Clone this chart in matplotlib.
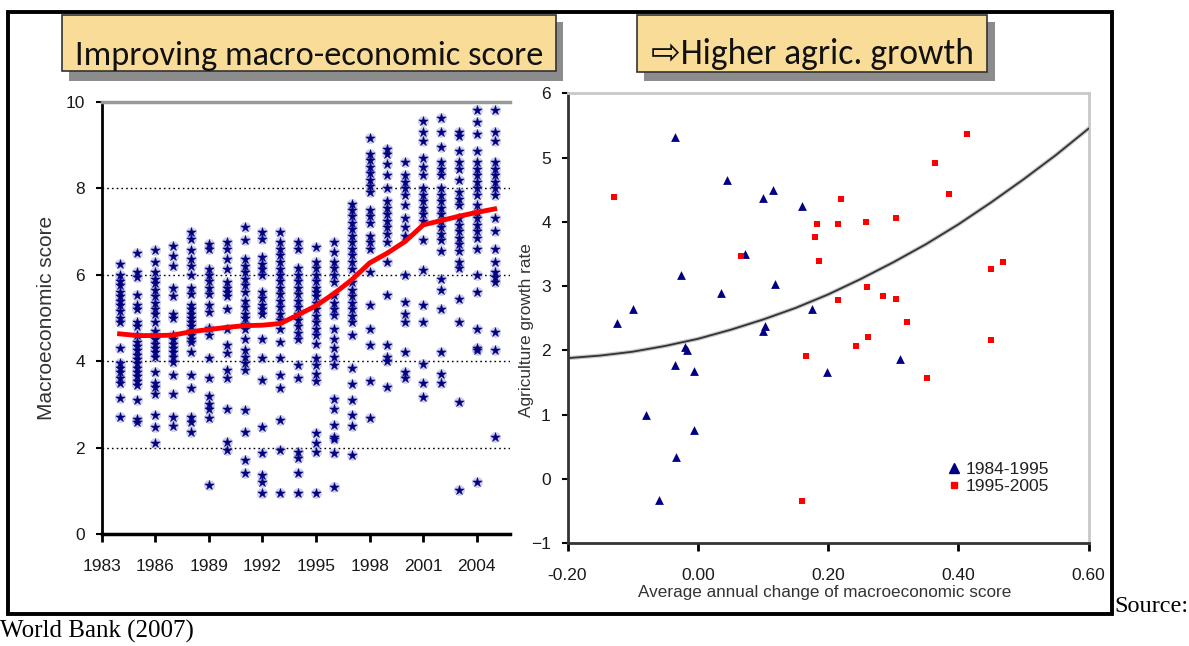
import numpy as np
from matplotlib import pyplot as plt
from matplotlib import font_manager
from matplotlib.patches import Rectangle
from matplotlib.lines import Line2D

# %% data
years = list(range(1984, 2006))

s1984 = [6.25, 6.0, 5.85, 5.75, 5.6, 5.5, 5.4, 5.3, 5.15, 5.0, 4.9, 4.3, 3.95, 3.85, 3.75, 3.6, 3.5, 3.15, 2.7]
s1985 = [6.5, 6.05, 5.95, 5.52, 5.3, 5.2, 4.9, 4.8, 4.6, 4.45, 4.35, 4.25, 4.15, 4.05, 3.95, 3.85, 3.75, 3.65, 3.55, 3.45, 3.1, 2.65, 2.6]
s1986 = [6.56, 6.3, 6.05, 5.9, 5.8, 5.65, 5.5, 5.35, 5.2, 5.1, 4.9, 4.7, 4.6, 4.5, 4.4, 4.3, 4.2, 4.1, 3.75, 3.5, 3.4, 3.25, 2.75, 2.48, 2.1]
s1987 = [6.67, 6.44, 6.2, 5.68, 5.5, 5.1, 5.0, 4.6, 4.5, 4.4, 4.3, 4.2, 4.1, 3.98, 3.67, 3.25, 2.71, 2.5]
s1988 = [6.98, 6.83, 6.56, 6.37, 6.2, 6.0, 5.7, 5.55, 5.3, 5.2, 5.1, 5.0, 4.9, 4.8, 4.7, 4.6, 4.5, 4.45, 4.21, 3.67, 3.37, 2.71, 2.6, 2.36]
s1989 = [6.71, 6.6, 6.14, 6.0, 5.85, 5.7, 5.55, 5.29, 5.14, 4.76, 4.6, 4.06, 3.6, 3.2, 3.0, 2.9, 2.68, 1.13]
s1990 = [6.75, 6.6, 6.37, 6.14, 5.83, 5.7, 5.6, 5.5, 5.21, 4.75, 4.37, 4.18, 3.8, 3.6, 2.9, 2.13, 1.95]
s1991 = [7.1, 6.79, 6.37, 6.2, 6.05, 5.9, 5.75, 5.6, 5.4, 5.25, 5.1, 5.0, 4.85, 4.75, 4.52, 4.25, 4.1, 3.95, 3.8, 2.86, 2.36, 1.71, 1.4]
s1992 = [6.98, 6.83, 6.4, 6.25, 6.14, 6.0, 5.6, 5.45, 5.3, 5.2, 5.1, 4.5, 4.06, 3.56, 2.48, 1.87, 1.36, 1.2, 0.95]
s1993 = [6.98, 6.75, 6.6, 6.45, 6.29, 6.14, 6.0, 5.85, 5.7, 5.55, 5.4, 5.25, 5.1, 4.95, 4.75, 4.45, 4.06, 3.67, 3.37, 2.63, 1.95, 0.95]
s1994 = [6.75, 6.6, 6.15, 6.0, 5.85, 5.7, 5.55, 5.4, 5.25, 5.1, 4.95, 4.8, 4.65, 4.5, 3.9, 3.6, 1.9, 1.75, 1.4, 0.95]
s1995 = [6.64, 6.3, 6.15, 6.0, 5.85, 5.7, 5.6, 5.5, 5.35, 5.2, 5.05, 4.9, 4.75, 4.6, 4.4, 4.06, 3.9, 3.7, 3.55, 2.33, 2.1, 1.9, 0.95]
s1996 = [6.75, 6.52, 6.29, 6.15, 6.0, 5.83, 5.52, 5.35, 5.2, 5.06, 4.75, 4.52, 4.3, 4.1, 3.9, 3.13, 2.9, 2.52, 2.25, 2.2, 1.87, 1.09]
s1997 = [7.63, 7.5, 7.35, 7.2, 7.05, 6.9, 6.75, 6.6, 6.45, 6.3, 6.14, 5.83, 5.65, 5.5, 5.35, 5.2, 5.05, 4.9, 4.6, 3.83, 3.48, 3.1, 2.75, 2.5, 1.83]
s1998 = [9.17, 8.8, 8.65, 8.5, 8.35, 8.2, 8.05, 7.9, 7.5, 7.35, 7.2, 6.9, 6.75, 6.6, 6.07, 5.29, 4.75, 4.37, 3.55, 2.68]
s1999 = [8.9, 8.8, 8.55, 8.3, 8.0, 7.7, 7.55, 7.4, 7.25, 7.1, 6.95, 6.75, 6.3, 5.52, 4.37, 4.1, 4.0, 3.4]
s2000 = [8.6, 8.3, 8.15, 8.0, 7.85, 7.6, 7.3, 7.1, 6.9, 6.0, 5.37, 5.1, 4.9, 4.22, 3.75, 3.6]
s2001 = [9.56, 9.3, 9.1, 8.7, 8.5, 8.3, 8.0, 7.85, 7.7, 7.55, 7.4, 7.25, 6.8, 6.1, 5.3, 4.9, 3.93, 3.5, 3.17]
s2002 = [9.62, 9.3, 8.96, 8.6, 8.45, 8.3, 8.0, 7.85, 7.7, 7.55, 7.4, 7.25, 7.1, 6.95, 6.8, 6.55, 5.9, 5.65, 5.2, 4.2, 3.7, 3.5]
s2003 = [9.3, 9.2, 8.85, 8.6, 8.45, 8.2, 7.9, 7.75, 7.6, 7.3, 7.15, 7.0, 6.85, 6.7, 6.55, 6.3, 6.15, 5.44, 4.9, 3.06, 1.02]
s2004 = [9.8, 9.53, 9.26, 8.85, 8.6, 8.45, 8.3, 8.15, 8.0, 7.85, 7.6, 7.45, 7.3, 7.15, 7.0, 6.85, 6.6, 6.0, 5.6, 4.75, 4.3, 4.25, 1.21]
s2005 = [9.8, 9.3, 9.1, 8.6, 8.45, 8.3, 8.15, 8.0, 7.85, 7.3, 7.0, 6.6, 6.3, 6.07, 5.95, 5.83, 4.68, 4.25, 2.25]

scores = [s1984, s1985, s1986, s1987, s1988, s1989, s1990, s1991, s1992, s1993, s1994,
          s1995, s1996, s1997, s1998, s1999, s2000, s2001, s2002, s2003, s2004, s2005]

mean_score = [4.63, 4.59, 4.59, 4.6, 4.68, 4.73, 4.78, 4.82, 4.83, 4.87, 5.07,
              5.28, 5.56, 5.88, 6.27, 6.5, 6.77, 7.15, 7.25, 7.35, 7.44, 7.52]

# 1984-1995
early_x = [-0.035, 0.045, 0.10, 0.115, 0.16, 0.073, -0.025, 0.035, 0.118, -0.10, -0.124, 0.176,
           0.104, 0.10, -0.019, -0.016, -0.035, -0.005, 0.198, 0.31, -0.08, -0.005, -0.033, -0.06]
early_y = [5.32, 4.65, 4.37, 4.5, 4.25, 3.5, 3.17, 2.9, 3.04, 2.64, 2.43, 2.64,
           2.38, 2.30, 2.05, 2.0, 1.77, 1.68, 1.66, 1.86, 1.0, 0.77, 0.34, -0.32]
# 1995-2005
late_x = [-0.128, 0.413, 0.365, 0.386, 0.22, 0.183, 0.216, 0.258, 0.304, 0.18, 0.186, 0.066, 0.26,
          0.216, 0.285, 0.304, 0.321, 0.451, 0.469, 0.262, 0.243, 0.451, 0.166, 0.352, 0.16]
late_y = [4.38, 5.37, 4.92, 4.44, 4.36, 3.97, 3.97, 4.0, 4.06, 3.76, 3.39, 3.47, 2.99,
          2.78, 2.84, 2.8, 2.44, 3.26, 3.37, 2.21, 2.07, 2.17, 1.92, 1.57, -0.34]

trend_x = [-0.2, -0.15, -0.1, -0.05, 0.0, 0.05, 0.1, 0.15, 0.2, 0.25, 0.3, 0.35, 0.4, 0.45, 0.5, 0.55, 0.6]
trend_y = [1.88, 1.92, 1.98, 2.07, 2.18, 2.32, 2.48, 2.66, 2.87, 3.11, 3.37, 3.65, 3.96, 4.30, 4.66, 5.04, 5.45]

# %% fonts
avail = {f.name for f in font_manager.fontManager.ttflist}
def pick(*names):
    for n in names:
        if n in avail:
            return n
    return 'DejaVu Sans'

narrow = pick('Liberation Sans Narrow', 'Arial Narrow', 'Liberation Sans')
tick_fs = 14 if narrow != 'Liberation Sans' else 12.5
title_font = pick('Carlito', 'Liberation Sans Narrow', 'Open Sans', 'Noto Sans')
serif = pick('Liberation Serif', 'DejaVu Serif')

# %% figure, pixel helpers
W, H = 1189, 646
fig = plt.figure(figsize=(W / 100, H / 100), dpi=100)
renderer = fig.canvas.get_renderer()

def fx(x):
    return x / W

def fy(y):
    return 1 - y / H

def fit_len(t, target, vertical=False):
    bb = t.get_window_extent(renderer)
    L = bb.height if vertical else bb.width
    t.set_fontsize(t.get_fontsize() * target / L)

def px_rect(x0, y0, x1, y1, **kw):
    r = Rectangle((fx(x0), fy(y1)), (x1 - x0) / W, (y1 - y0) / H, transform=fig.transFigure, **kw)
    fig.add_artist(r)
    return r

# outer frame
px_rect(8, 12, 1112, 614, fill=False, edgecolor='black', lw=2.8)

# title boxes
px_rect(69, 22, 563, 81, facecolor='#8c8c8c', edgecolor='none')
px_rect(62, 15, 556, 71, facecolor='#f9dc98', edgecolor='#333333', lw=1.2)
px_rect(644, 22, 995, 81, facecolor='#8c8c8c', edgecolor='none')
px_rect(637, 15, 987, 72, facecolor='#f9dc98', edgecolor='#333333', lw=1.2)

t1 = fig.text(fx(309), fy(65), 'Improving macro-economic score', ha='center', va='baseline',
              fontsize=30, family=[title_font, 'DejaVu Sans'], color='#111111')
fit_len(t1, 467)
t2 = fig.text(fx(812), fy(64), '\u21e8Higher agric. growth', ha='center', va='baseline',
              fontsize=30, family=[title_font, 'DejaVu Sans'], color='#111111')
fit_len(t2, 323)

# %% left: macroeconomic score by year
ax1 = fig.add_axes([fx(101.7), fy(534), (510 - 101.7) / W, (534 - 101.7) / H])
for yr, vals in zip(years, scores):
    xs = [yr] * len(vals)
    ax1.scatter(xs, vals, s=62, color='#9a9ad6', alpha=0.45, linewidths=0, zorder=2)
    ax1.scatter(xs, vals, s=52, marker='*', color='#000080', linewidths=0.3, edgecolors='#000080', zorder=3)
ax1.plot(years, mean_score, color='#ff0000', lw=3.5, zorder=4)

ax1.set_xlim(1983, 2005.86)
ax1.set_ylim(0, 10)
for g in (2, 4, 6, 8):
    ax1.axhline(g, color='black', lw=1, ls=(0, (1.2, 2.2)), zorder=1)
ax1.set_xticks(range(1983, 2005, 3))
ax1.set_yticks(range(0, 11, 2))
ax1.tick_params(axis='x', length=6, width=2, pad=12, labelsize=tick_fs, labelcolor='#1a1a1a')
ax1.tick_params(axis='y', length=4, width=1.5, pad=8, labelsize=tick_fs, labelcolor='#1a1a1a')
for lab in ax1.get_xticklabels() + ax1.get_yticklabels():
    lab.set_family(narrow)
ax1.spines['right'].set_visible(False)
ax1.spines['top'].set_color('#999999')
ax1.spines['top'].set_linewidth(2.5)
ax1.spines['left'].set_linewidth(2)
ax1.spines['bottom'].set_linewidth(2.5)

yl1 = fig.text(fx(46), fy(318), 'Macroeconomic score', rotation=90, ha='center', va='center',
               fontsize=12, family=narrow, color='#333333')
fit_len(yl1, 205, vertical=True)

# %% right: agricultural growth vs change of score
ax2 = fig.add_axes([fx(567.5), fy(543.3), (1088.5 - 567.5) / W, (543.3 - 93.3) / H])
ax2.plot(trend_x, trend_y, color='#c8c8c8', lw=3.0, zorder=2)
ax2.plot(trend_x, trend_y, color='#333333', lw=1.3, zorder=3)
ax2.scatter(early_x, early_y, marker='^', s=40, color='#000080', linewidths=0, zorder=4)
ax2.scatter(late_x, late_y, marker='s', s=18, color='#ff0000', linewidths=0, zorder=4)

ax2.set_xlim(-0.2, 0.6)
ax2.set_ylim(-1, 6)
xt = [-0.2, 0.0, 0.2, 0.4, 0.6]
ax2.set_xticks(xt)
ax2.set_xticklabels([f'{v:.2f}' for v in xt])
ax2.set_yticks(range(-1, 7))
ax2.tick_params(axis='x', length=6, width=2, pad=12, labelsize=tick_fs, labelcolor='#1a1a1a')
ax2.tick_params(axis='y', length=4, width=1.5, pad=8, labelsize=tick_fs, labelcolor='#1a1a1a')
for lab in ax2.get_xticklabels() + ax2.get_yticklabels():
    lab.set_family(narrow)
for s in ('top', 'right'):
    ax2.spines[s].set_color('#c8c8c8')
    ax2.spines[s].set_linewidth(2)
ax2.spines['left'].set_color('#333333')
ax2.spines['left'].set_linewidth(2)
ax2.spines['bottom'].set_color('#333333')
ax2.spines['bottom'].set_linewidth(2)

handles = [Line2D([], [], ls='none', marker='^', ms=7.5, color='#000080'),
           Line2D([], [], ls='none', marker='s', ms=5, color='#ff0000')]
ax2.legend(handles, ['1984-1995', '1995-2005'], loc='upper left', bbox_to_anchor=(0.7, 0.215),
           frameon=False, handlelength=0.7, handletextpad=0.3, labelspacing=0.1,
           prop={'family': narrow, 'size': tick_fs}, labelcolor='#222222')

yl2 = fig.text(fx(527), fy(330), 'Agriculture growth rate', rotation=90, ha='center', va='center',
               fontsize=12, family=narrow, color='#333333')
fit_len(yl2, 175, vertical=True)
xl2 = fig.text(fx(825), fy(592), 'Average annual change of macroeconomic score', ha='center', va='center',
               fontsize=12, family=narrow, color='#333333')
fit_len(xl2, 374)

# %% source note
fig.text(fx(1114), fy(612), 'Source:', ha='left', va='baseline', fontsize=17.5, family=serif, color='black')
fig.text(fx(0), fy(638), 'World Bank (2007)', ha='left', va='baseline', fontsize=18, family=serif, color='black')

fig.savefig('out.png', dpi=100)
